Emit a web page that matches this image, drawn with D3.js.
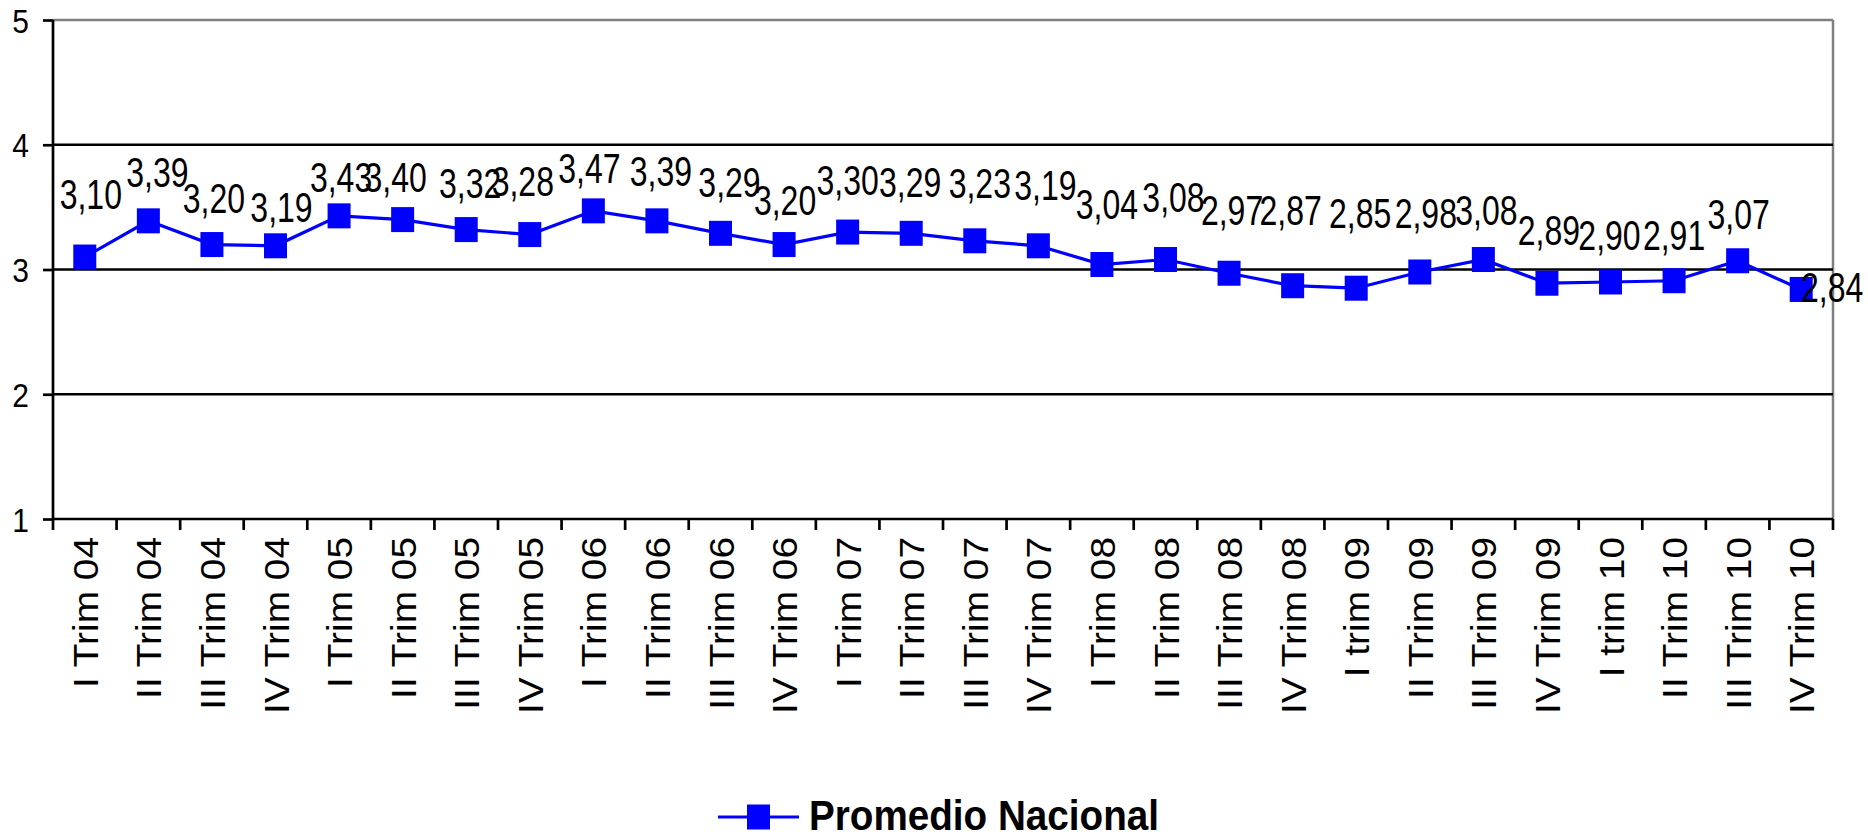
<!DOCTYPE html>
<html>
<head>
<meta charset="utf-8">
<script src="https://cdn.jsdelivr.net/npm/d3@7/dist/d3.min.js"></script>
<style>
  html, body { margin: 0; padding: 0; background: #fff; }
  svg { display: block; }
</style>
</head>
<body>
<svg id="chart" width="1868" height="837"></svg>
<script>
// ---- data ----
const categories = [
  "I Trim 04", "II Trim 04", "III Trim 04", "IV Trim 04",
  "I Trim 05", "II Trim 05", "III Trim 05", "IV Trim 05",
  "I Trim 06", "II Trim 06", "III Trim 06", "IV Trim 06",
  "I Trim 07", "II Trim 07", "III Trim 07", "IV Trim 07",
  "I Trim 08", "II Trim 08", "III Trim 08", "IV Trim 08",
  "I trim 09", "II Trim 09", "III Trim 09", "IV Trim 09",
  "I trim 10", "II Trim 10", "III Trim 10", "IV Trim 10"
];
const promedioNacional = [
  3.10, 3.39, 3.20, 3.19, 3.43, 3.40, 3.32, 3.28,
  3.47, 3.39, 3.29, 3.20, 3.30, 3.29, 3.23, 3.19,
  3.04, 3.08, 2.97, 2.87, 2.85, 2.98, 3.08, 2.89,
  2.90, 2.91, 3.07, 2.84
];
const seriesName = "Promedio Nacional";
const yTicks = [1, 2, 3, 4, 5];

// ---- layout (label placement relative to each marker) ----
const labelDx = [6, 9, 2, 6, 2, -7, 4, -7, -4, 4, 9, 1, 0, -1, 5, 7, 5, 8, 3, -2, 4, 6, 3, 2, -1, 0, 1, 31];
const labelDy = [-48, -34, -32, -24, -24, -28, -32, -39, -28, -35, -36, -30, -37, -36, -43, -46, -46, -48, -48, -61, -60, -44, -35, -38, -32, -31, -32, 13];

const mLeft = 53, mRight = 1833, mTop = 20, mBottom = 519;
const svg = d3.select("#chart");
const font = "'Liberation Sans', Arial, sans-serif";

const x = d3.scaleBand().domain(categories).range([mLeft, mRight]).paddingInner(0).paddingOuter(0);
const y = d3.scaleLinear().domain([1, 5]).range([mBottom, mTop]);

// top border and right border (grey)
svg.append("line").attr("x1", mLeft).attr("x2", mRight).attr("y1", y(5)).attr("y2", y(5))
  .attr("stroke", "#808080").attr("stroke-width", 2.5);
svg.append("line").attr("x1", mRight).attr("x2", mRight).attr("y1", mTop).attr("y2", mBottom)
  .attr("stroke", "#808080").attr("stroke-width", 2.5);

// gridlines (black)
svg.append("g").selectAll("line").data(yTicks.filter(d => d > 1 && d < 5)).join("line")
  .attr("x1", mLeft).attr("x2", mRight)
  .attr("y1", d => y(d)).attr("y2", d => y(d))
  .attr("stroke", "#000").attr("stroke-width", 2.7);

// y axis
const yAxis = svg.append("g").attr("transform", `translate(${mLeft},0)`)
  .call(d3.axisLeft(y).tickValues(yTicks).tickSize(10).tickPadding(14).tickFormat(d3.format("d")));
yAxis.select(".domain").attr("stroke", "#000").attr("stroke-width", 2.7).attr("d", `M0,${mTop}V${mBottom}`);
yAxis.selectAll(".tick line").attr("stroke", "#000").attr("stroke-width", 2.7);
yAxis.selectAll(".tick text").remove();
yAxis.selectAll(".tick").append("text")
  .attr("transform", "translate(-24,12) scale(1,1.12)")
  .attr("text-anchor", "end")
  .attr("font-family", font).attr("font-size", 30).attr("fill", "#000")
  .text(d => d3.format("d")(d));

// x axis (ticks at category boundaries)
const boundaries = categories.map(c => x(c)).concat([mRight]);
svg.append("line").attr("x1", mLeft).attr("x2", mRight).attr("y1", mBottom).attr("y2", mBottom)
  .attr("stroke", "#000").attr("stroke-width", 2.7);
svg.append("g").selectAll("line").data(boundaries).join("line")
  .attr("x1", d => d).attr("x2", d => d).attr("y1", mBottom).attr("y2", mBottom + 11)
  .attr("stroke", "#000").attr("stroke-width", 2.7);
svg.append("g").selectAll("text").data(categories).join("text")
  .attr("transform", d => `translate(${x(d) + x.bandwidth() / 2 + 13},${mBottom + 18}) rotate(-90) scale(1.11,1)`)
  .attr("text-anchor", "end")
  .attr("font-family", font).attr("font-size", 35).attr("fill", "#000")
  .text(d => d);

// line
const cx = (d, i) => x(categories[i]) + x.bandwidth() / 2;
const line = d3.line().x((d, i) => cx(d, i)).y(d => y(d));
svg.append("path").datum(promedioNacional).attr("d", line)
  .attr("fill", "none").attr("stroke", "#0000ff").attr("stroke-width", 3.2);

// markers
const mw = 23, mh = 25;
svg.append("g").selectAll("rect").data(promedioNacional).join("rect")
  .attr("x", (d, i) => cx(d, i) - mw / 2).attr("y", d => y(d) - mh / 2)
  .attr("width", mw).attr("height", mh).attr("fill", "#0000ff");

// data labels
const fmt = d3.formatLocale({ decimal: ",", thousands: ".", grouping: [3], currency: ["", ""] }).format(".2f");
svg.append("g").selectAll("text").data(promedioNacional).join("text")
  .attr("transform", (d, i) => `translate(${cx(d, i) + labelDx[i]},${y(d) + labelDy[i]}) scale(1,1.3)`)
  .attr("text-anchor", "middle")
  .attr("font-family", font).attr("font-size", 32).attr("fill", "#000")
  .text(d => fmt(d));

// legend
const lg = svg.append("g");
lg.append("line").attr("x1", 718).attr("x2", 799).attr("y1", 817).attr("y2", 817)
  .attr("stroke", "#0000ff").attr("stroke-width", 3.2);
lg.append("rect").attr("x", 758.5 - mw / 2).attr("y", 817 - mh / 2).attr("width", mw).attr("height", mh)
  .attr("fill", "#0000ff");
lg.append("text").attr("x", 809).attr("y", 830)
  .attr("font-family", font).attr("font-weight", "bold").attr("font-size", 43).attr("fill", "#000")
  .attr("textLength", 350).attr("lengthAdjust", "spacingAndGlyphs")
  .text(seriesName);
</script>
</body>
</html>
